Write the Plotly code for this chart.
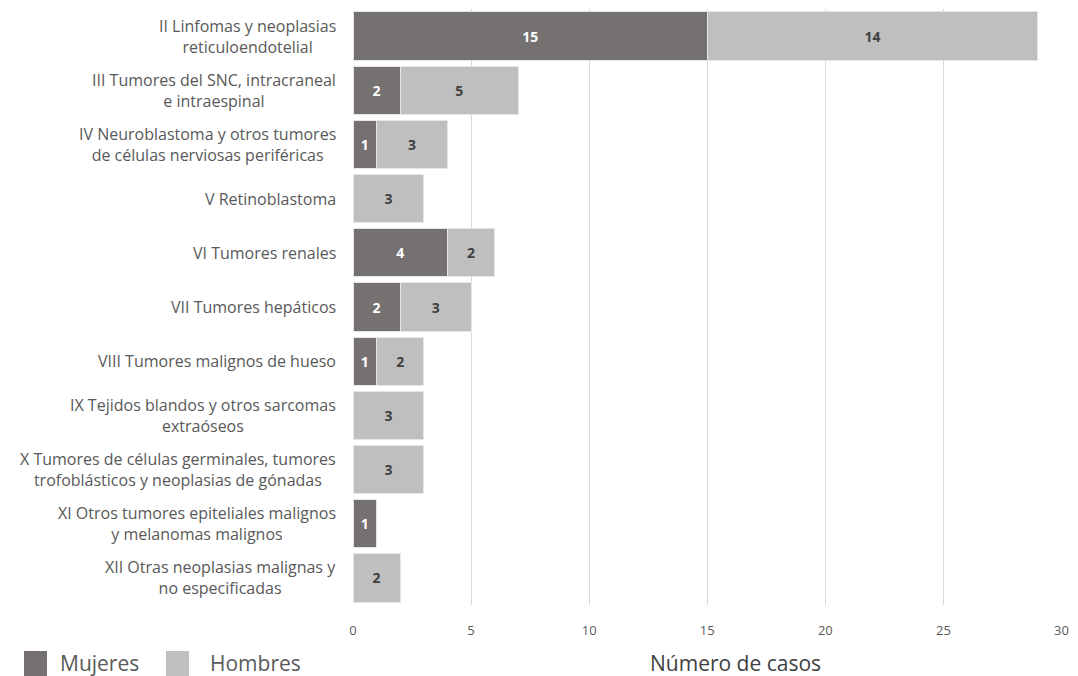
import plotly.graph_objects as go

categories = [
    "II Linfomas y neoplasias<br>reticuloendotelial",
    "III Tumores del SNC, intracraneal<br>e intraespinal",
    "IV Neuroblastoma y otros tumores<br>de células nerviosas periféricas",
    "V Retinoblastoma",
    "VI Tumores renales",
    "VII Tumores hepáticos",
    "VIII Tumores malignos de hueso",
    "IX Tejidos blandos y otros sarcomas<br>extraóseos",
    "X Tumores de células germinales, tumores<br>trofoblásticos y neoplasias de gónadas",
    "XI Otros tumores epiteliales malignos<br>y melanomas malignos",
    "XII Otras neoplasias malignas y<br>no especificadas",
]
mujeres = [15, 2, 1, 0, 4, 2, 1, 0, 0, 1, 0]
hombres = [14, 5, 3, 3, 2, 3, 2, 3, 3, 0, 2]
x_ticks = [0, 5, 10, 15, 20, 25, 30]
series_names = ["Mujeres", "Hombres"]
series_colors = ["#767171", "#BFBFBF"]

FONT = "Open Sans"
OFF = 8  # page body margin offset
W, H = 1078 - 2 * OFF, 676 - OFF
L, T = 353 - OFF, 9 - OFF
R = W - (1062 - OFF)
B = H - (605 - OFF)
PW, PH = W - L - R, H - T - B


def px_x(x):  # reference pixel -> paper x
    return (x - OFF - L) / PW


def px_y(y):  # reference pixel -> paper y
    return (H - (y - OFF) - B) / PH


fig = go.Figure()
for name, vals, col, tcol in [
    (series_names[0], mujeres, series_colors[0], "white"),
    (series_names[1], hombres, series_colors[1], "#404040"),
]:
    fig.add_trace(go.Bar(
        y=categories, x=vals, orientation="h", name=name, showlegend=False,
        marker=dict(color=col, line=dict(color="#E6E6E6", width=1)),
        text=[str(v) if v else "" for v in vals], textposition="inside",
        insidetextanchor="middle",
        textfont=dict(family=FONT, size=14, color=tcol, weight="bold"),
    ))

for c in categories:
    fig.add_annotation(x=0, xref="paper", y=c, yref="y", xshift=-15,
                       text=c, showarrow=False, xanchor="right", align="center",
                       font=dict(family=FONT, size=16, color="#595959"))

# axis title
fig.add_annotation(x=px_x(735), xref="paper", y=px_y(663), yref="paper",
                   text="Número de casos", showarrow=False, xanchor="center",
                   yanchor="middle", font=dict(family=FONT, size=21, color="#404040"))

# legend (squares + labels)
shapes = []
leg_sq_x = [24, 166]
leg_txt_x = [58, 208]
for i, (name, col) in enumerate(zip(series_names, series_colors)):
    shapes.append(dict(type="rect", xref="paper", yref="paper",
                       x0=px_x(leg_sq_x[i]), x1=px_x(leg_sq_x[i] + 23),
                       y0=px_y(676), y1=px_y(651),
                       fillcolor=col, line=dict(width=0)))
    fig.add_annotation(x=px_x(leg_txt_x[i]), xref="paper",
                       y=px_y(663), yref="paper",
                       text=name, showarrow=False, xanchor="left", yanchor="middle",
                       font=dict(family=FONT, size=21, color="#595959"))

fig.update_layout(
    width=W, height=H,
    barmode="stack", bargap=0.11,
    margin=dict(l=L, r=R, t=T, b=B, autoexpand=False),
    paper_bgcolor="white", plot_bgcolor="white",
    font=dict(family=FONT, color="#595959"),
    shapes=shapes,
    xaxis=dict(range=[0, 30.02], tickvals=x_ticks, showgrid=True,
               gridcolor="#D9D9D9", gridwidth=1, zeroline=False,
               tickfont=dict(family=FONT, size=13, color="#595959"),
               ticks="", showline=False, automargin=False,
               ticklabelstandoff=16),
    yaxis=dict(autorange="reversed", showticklabels=False, showgrid=False,
               zeroline=False, showline=False, ticks="", automargin=False),
    showlegend=False,
)
fig.write_html("out.html")
